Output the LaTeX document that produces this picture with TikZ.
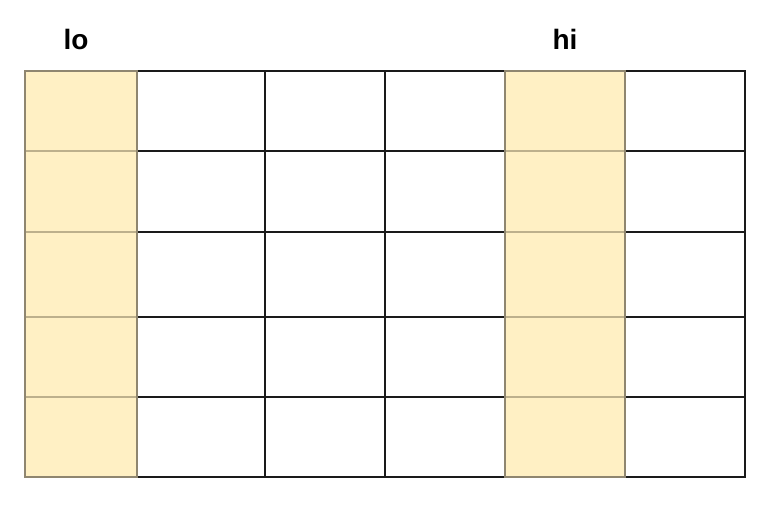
\documentclass[tikz,border=0pt]{standalone}
\usepackage{fontspec}
\setmainfont{Liberation Sans}
\definecolor{cellyellow}{HTML}{FFF0C4}
\definecolor{yellowedge}{HTML}{8F8670}
\definecolor{yellowinner}{HTML}{BDB08C}
\definecolor{gridline}{HTML}{1A1A1A}
\begin{document}
\begin{tikzpicture}[x=1pt,y=-1pt,
  whitecell/.style={draw=gridline,line width=2pt,fill=white},
  yellowcell/.style={draw=yellowinner,line width=1.8pt,fill=cellyellow},
  label/.style={font=\bfseries\fontsize{28}{32}\selectfont,inner sep=0pt}]
\useasboundingbox (0,0) rectangle (770,506);
\foreach \ya/\yb in {71/151,151/232,232/317,317/397,397/477}{
  \foreach \xa/\xb in {137/265,265/385,385/505,625/745}{
    \draw[whitecell] (\xa,\ya) rectangle (\xb,\yb);
  }
}
\foreach \ya/\yb in {71/151,151/232,232/317,317/397,397/477}{
  \foreach \xa/\xb in {25/137,505/625}{
    \draw[yellowcell] (\xa,\ya) rectangle (\xb,\yb);
  }
}
% outer edges of the yellow columns
\foreach \xa/\xb in {25/137,505/625}{
  \draw[draw=yellowedge,line width=1.8pt] (\xa,71) rectangle (\xb,477);
}
\node[label] (lo) at (76,39) {lo};
\node[label] (hi) at (565,39) {hi};
\end{tikzpicture}
\end{document}
